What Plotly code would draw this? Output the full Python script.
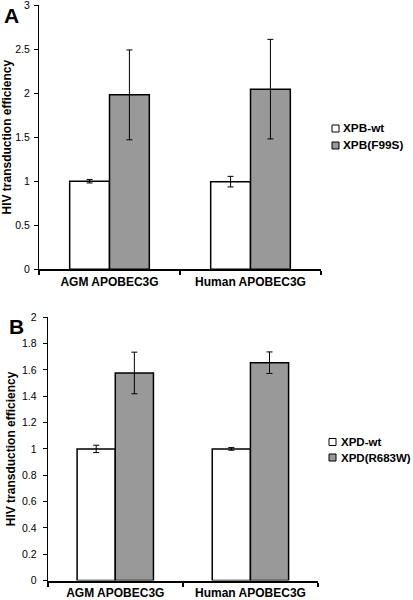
import plotly.graph_objects as go

categories = ["AGM APOBEC3G", "Human APOBEC3G"]

# Panel A
a_names = ["XPB-wt", "XPB(F99S)"]
a_wt = [1.0, 0.995]
a_wt_err = [0.02, 0.06]
a_mut = [1.98, 2.045]
a_mut_err = [0.51, 0.565]
a_yticks = [0, 0.5, 1, 1.5, 2, 2.5, 3]

# Panel B
b_names = ["XPD-wt", "XPD(R683W)"]
b_wt = [1.0, 1.0]
b_wt_err = [0.028, 0.01]
b_mut = [1.577, 1.655]
b_mut_err = [0.158, 0.082]
b_yticks = [0, 0.2, 0.4, 0.6, 0.8, 1, 1.2, 1.4, 1.6, 1.8, 2]

FONT = "Liberation Sans, Arial, sans-serif"
GRAY = "#999999"
FILLS = ["white", GRAY]

fig = go.Figure()

def add_pair(names, wt, wt_err, mut, mut_err, xa, ya):
    for name, vals, errs, fill in zip(names, [wt, mut], [wt_err, mut_err], FILLS):
        fig.add_trace(go.Bar(
            x=categories, y=vals, name=name, xaxis=xa, yaxis=ya, showlegend=False,
            marker=dict(color=fill, line=dict(color="black", width=1.5)),
            error_y=dict(type="data", array=errs, color="black", thickness=1, width=3),
        ))

add_pair(a_names, a_wt, a_wt_err, a_mut, a_mut_err, "x", "y")
add_pair(b_names, b_wt, b_wt_err, b_mut, b_mut_err, "x2", "y2")

W, H = 413, 600
def px(x): return x / W
def py(y): return 1 - y / H

xcommon = dict(type="category", showline=True, linecolor="black", linewidth=2,
               ticks="outside", tickson="boundaries", ticklen=4, tickcolor="black",
               tickwidth=2, showgrid=False, zeroline=False, automargin=False,
               ticklabelstandoff=0, ticklabeloverflow="allow",
               tickfont=dict(family=FONT, size=12, color="black", weight="bold"))

def ycommon(size, standoff):
    return dict(showline=True, linecolor="black", linewidth=1, ticks="outside",
                ticklen=4, tickcolor="black", showgrid=False, zeroline=False,
                automargin=False, ticklabelstandoff=standoff, ticklabeloverflow="allow",
                tickfont=dict(family=FONT, size=size, color="black"),
                title=dict(text="HIV transduction efficiency",
                           font=dict(family=FONT, size=12, color="black", weight="bold"),
                           standoff=3))

# Legend keys drawn as small squares next to text labels (layout items)
legend_items = [
    (a_names, 332, [125, 142], 341, 11.8),
    (b_names, 329, [438.5, 454], 339, 11.5),
]
shapes, annotations = [], []
for names, sx, ys, tx, fs in legend_items:
    for name, y0, fill in zip(names, ys, FILLS):
        shapes.append(dict(type="rect", xref="paper", yref="paper",
                           x0=px(sx), x1=px(sx + 7), y0=py(y0 + 7), y1=py(y0),
                           fillcolor=fill, line=dict(color="black", width=1)))
        annotations.append(dict(text=name, x=px(tx), y=py(y0 + 3.5), xref="paper", yref="paper",
                                xanchor="left", yanchor="middle", showarrow=False,
                                font=dict(family=FONT, size=fs, color="black", weight="bold")))

annotations += [
    dict(text="A", x=px(2), y=py(2), xref="paper", yref="paper",
         xanchor="left", yanchor="top", showarrow=False,
         font=dict(family=FONT, size=21, color="black", weight="bold")),
    dict(text="B", x=px(7), y=py(313), xref="paper", yref="paper",
         xanchor="left", yanchor="top", showarrow=False,
         font=dict(family=FONT, size=21, color="black", weight="bold")),
]

fig.update_layout(
    template="none",
    width=W, height=H, margin=dict(l=0, r=0, t=0, b=0, autoexpand=False),
    paper_bgcolor="white", plot_bgcolor="white",
    barmode="group", bargap=0.435, bargroupgap=0,
    xaxis=dict(domain=[px(39), px(321)], anchor="y", **xcommon),
    yaxis=dict(domain=[py(269.3), py(5)], anchor="x", range=[0, 3],
               tickvals=a_yticks, ticktext=[str(v) for v in a_yticks], **ycommon(10.5, 2)),
    xaxis2=dict(domain=[px(47.7), px(318)], anchor="y2", **xcommon),
    yaxis2=dict(domain=[py(580.5), py(317.3)], anchor="x2", range=[0, 2],
                tickvals=b_yticks, ticktext=[str(v) for v in b_yticks], **ycommon(10.5, 4)),
    showlegend=False,
    shapes=shapes,
    annotations=annotations,
)

fig.write_html("out.html", config={"displayModeBar": False},
               post_script="document.body.style.margin='0';document.body.style.overflow='hidden';")
